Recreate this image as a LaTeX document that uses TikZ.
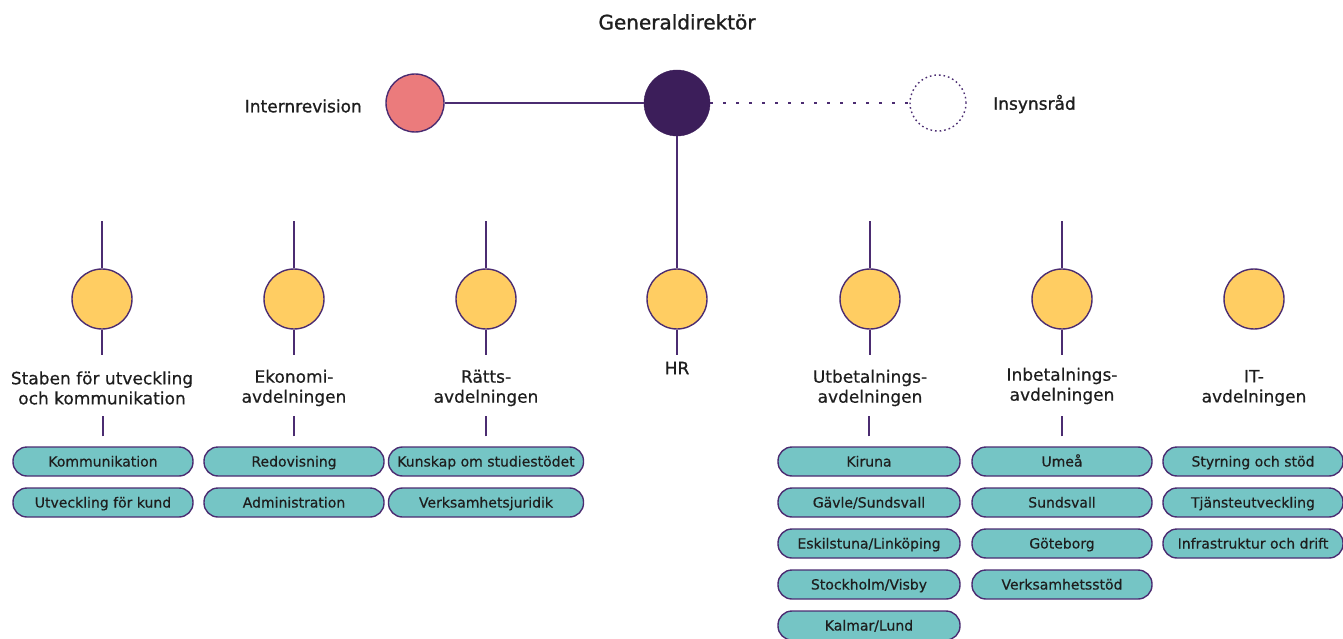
\documentclass[tikz,border=0pt]{standalone}
\usepackage{fontspec}
\setmainfont{DejaVu Sans}[FakeBold=0.5]
\newfontfamily\headfont{DejaVu Sans}[FakeBold=1.1]
\usepackage{tikz}
\definecolor{plum}{HTML}{4B2C71}
\definecolor{gdplum}{HTML}{3C1E5A}
\definecolor{coral}{HTML}{EB7B7C}
\definecolor{sun}{HTML}{FFCD62}
\definecolor{lagoon}{HTML}{75C5C5}
\definecolor{ink}{HTML}{1E1E1E}

\begin{document}
\begin{tikzpicture}[x=1pt,y=-1pt,
  conn/.style={draw=plum, line width=1.6pt},
  unit/.style={circle, draw=plum, line width=1.4pt, fill=sun, minimum size=60pt, inner sep=0pt},
  head/.style={text=ink, inner sep=0pt, font=\headfont\fontsize{17}{20}\selectfont},
  lbl/.style={text=ink, inner sep=0pt, align=center, font=\fontsize{17}{20}\selectfont},
  pill/.style={draw=plum, line width=1.4pt, fill=lagoon, rounded corners=14pt,
    minimum width=180pt, minimum height=29pt, inner sep=0pt, text height=10pt, text depth=0pt,
    text=ink, font=\fontsize{14}{16}\selectfont}]
  \useasboundingbox (0,0) rectangle (1343,639);

  % top row
  \node[head, font=\headfont\fontsize{20}{24}\selectfont] (gdlbl) at (677,22) {Generaldirektör};
  \node[circle, fill=gdplum, draw=gdplum, minimum size=66pt, inner sep=0pt] (gd) at (677,103) {};
  \node[circle, fill=coral, draw=plum, line width=1.4pt, minimum size=58pt, inner sep=0pt] (intrev) at (415,103) {};
  \node[circle, draw=plum, line width=1.4pt, dash pattern=on 1.6pt off 3pt, minimum size=56pt, inner sep=0pt] (insyn) at (938,103) {};
  \node[head, anchor=east] (intrevlbl) at (362,106) {Internrevision};
  \node[head, anchor=west] (insynlbl) at (993,104) {Insynsråd};
  \draw[conn] (intrev) -- (gd);
  \draw[conn, line width=2.6pt, dash pattern=on 2.6pt off 10.4pt] (gd) -- (insyn);

  % avdelningar
  \node[unit] (staben) at (102,299) {};
  \node[unit] (ekonomi) at (294,299) {};
  \node[unit] (ratts) at (486,299) {};
  \node[unit] (hr) at (677,299) {};
  \node[unit] (utbet) at (870,299) {};
  \node[unit] (inbet) at (1062,299) {};
  \node[unit] (it) at (1254,299) {};
  \draw[conn] (gd) -- (hr);
  \draw[conn] (staben.north) -- ++(0,-47);
  \draw[conn] (ekonomi.north) -- ++(0,-47);
  \draw[conn] (ratts.north) -- ++(0,-47);
  \draw[conn] (utbet.north) -- ++(0,-47);
  \draw[conn] (inbet.north) -- ++(0,-47);
  \draw[conn] (staben.south) -- ++(0,25);
  \draw[conn] (ekonomi.south) -- ++(0,25);
  \draw[conn] (ratts.south) -- ++(0,25);
  \draw[conn] (hr.south) -- ++(0,25);
  \draw[conn] (utbet.south) -- ++(0,25);
  \draw[conn] (inbet.south) -- ++(0,25);

  \node[lbl] (stabenlbl) at (102,388) {Staben för utveckling\\och kommunikation};
  \node[lbl] (ekonomilbl) at (294,388) {Ekonomi-\\avdelningen};
  \node[lbl] (rattslbl) at (486,388) {Rätts-\\avdelningen};
  \node[head] (hrlbl) at (677,368) {HR};
  \node[lbl] (utbetlbl) at (870,388) {Utbetalnings-\\avdelningen};
  \node[lbl] (inbetlbl) at (1062,386) {Inbetalnings-\\avdelningen};
  \node[lbl] (itlbl) at (1254,388) {IT-\\avdelningen};

  % enheter
  \node[pill] (kommunikation) at (103,461.5) {Kommunikation};
  \node[pill] (utvkund) at (103,502.5) {Utveckling för kund};
  \node[pill] (redovisning) at (294,461.5) {Redovisning};
  \node[pill] (administration) at (294,502.5) {Administration};
  \node[pill, minimum width=195pt] (kunskap) at (486,461.5) {Kunskap om studiestödet};
  \node[pill, minimum width=195pt] (vjuridik) at (486,502.5) {Verksamhetsjuridik};
  \node[pill, minimum width=182pt] (kiruna) at (869,461.5) {Kiruna};
  \node[pill, minimum width=182pt] (gavle) at (869,502.5) {Gävle/Sundsvall};
  \node[pill, minimum width=182pt] (eskilstuna) at (869,543.5) {Eskilstuna/Linköping};
  \node[pill, minimum width=182pt] (stockholm) at (869,584.5) {Stockholm/Visby};
  \node[pill, minimum width=182pt] (kalmar) at (869,625.5) {Kalmar/Lund};
  \node[pill] (umea) at (1062,461.5) {Umeå};
  \node[pill] (sundsvall) at (1062,502.5) {Sundsvall};
  \node[pill] (goteborg) at (1062,543.5) {Göteborg};
  \node[pill] (vstod) at (1062,584.5) {Verksamhetsstöd};
  \node[pill] (styrning) at (1253,461.5) {Styrning och stöd};
  \node[pill] (tjanst) at (1253,502.5) {Tjänsteutveckling};
  \node[pill] (infra) at (1253,543.5) {Infrastruktur och drift};
  \draw[conn] (kommunikation.north) ++(0,-10) -- ++(0,-20);
  \draw[conn] (redovisning.north) ++(0,-10) -- ++(0,-20);
  \draw[conn] (kunskap.north) ++(0,-10) -- ++(0,-20);
  \draw[conn] (kiruna.north) ++(0,-10) -- ++(0,-20);
  \draw[conn] (umea.north) ++(0,-10) -- ++(0,-20);
\end{tikzpicture}
\end{document}
